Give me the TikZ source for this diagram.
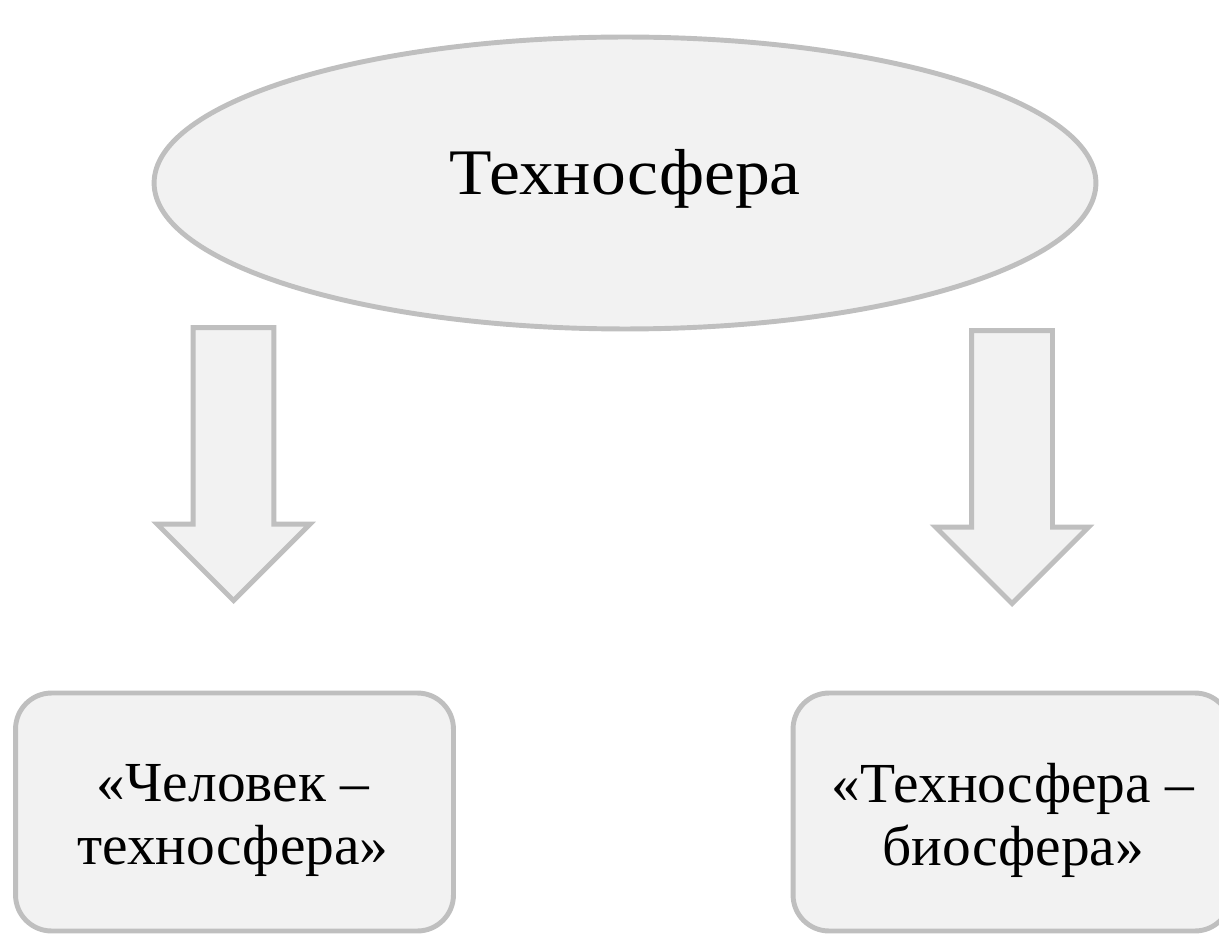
\documentclass[tikz,border=0pt]{standalone}
\usepackage{fontspec}
\setmainfont{Liberation Serif}
\usepackage{tikz}
\usetikzlibrary{shapes.geometric, shapes.arrows}
\definecolor{linegray}{HTML}{BFBFBF}
\definecolor{boxgray}{HTML}{F2F2F2}

\begin{document}
\begin{tikzpicture}
	[%
	x=0.02cm, y=-0.02cm,%
	sphere/.style   ={ellipse,		draw=linegray,	fill=boxgray,	line width=2.8pt,	inner sep=0pt,	minimum width=18.84cm,	minimum height=5.84cm,	text height=25.5pt,	text depth=12.9pt,	font=\fontsize{37}{42}\selectfont\addfontfeature{FakeStretch=1.07}},%
	downarrow/.style={single arrow,	draw=linegray,	fill=boxgray,	line width=2.8pt,	inner xsep=0pt,	inner ysep=0.76cm,	minimum height=5.46cm,	minimum width=2.96cm,	single arrow head extend=0.72cm,	single arrow tip angle=90,	rotate=-90,	anchor=tip},%
	system/.style   ={rectangle,	draw=linegray,	fill=boxgray,	line width=2.8pt,	rounded corners=0.72cm,	minimum width=8.76cm,	minimum height=4.76cm},%
	systext/.style  ={align=center,	inner sep=0pt,	font=\fontsize{32.2}{35.85}\selectfont\addfontfeature{FakeStretch=1.015}},%
	]

	\newcommand\colL{233.5}
	\newcommand{\colR}{1012}
	\newcommand{\rowbox}{812}

	\useasboundingbox (0,0) rectangle (1219,935);

	% nodes
	\node (techno) at (625,183) [sphere] {Техносфера};

	\node (boxL) at (\colL+1,\rowbox) [system] {};
	\node (boxR) at (\colR,\rowbox) [system] {};
	\node (textL) at (233,820) [systext] {«Человек –\\техносфера»};
	\node (textR) at (1013,820) [systext] {«Техносфера –\\биосфера»};

	% arrows
	\node (arrowL) at (\colL,604) [downarrow] {};
	\node (arrowR) at (\colR,607) [downarrow] {};

\end{tikzpicture}
\end{document}
